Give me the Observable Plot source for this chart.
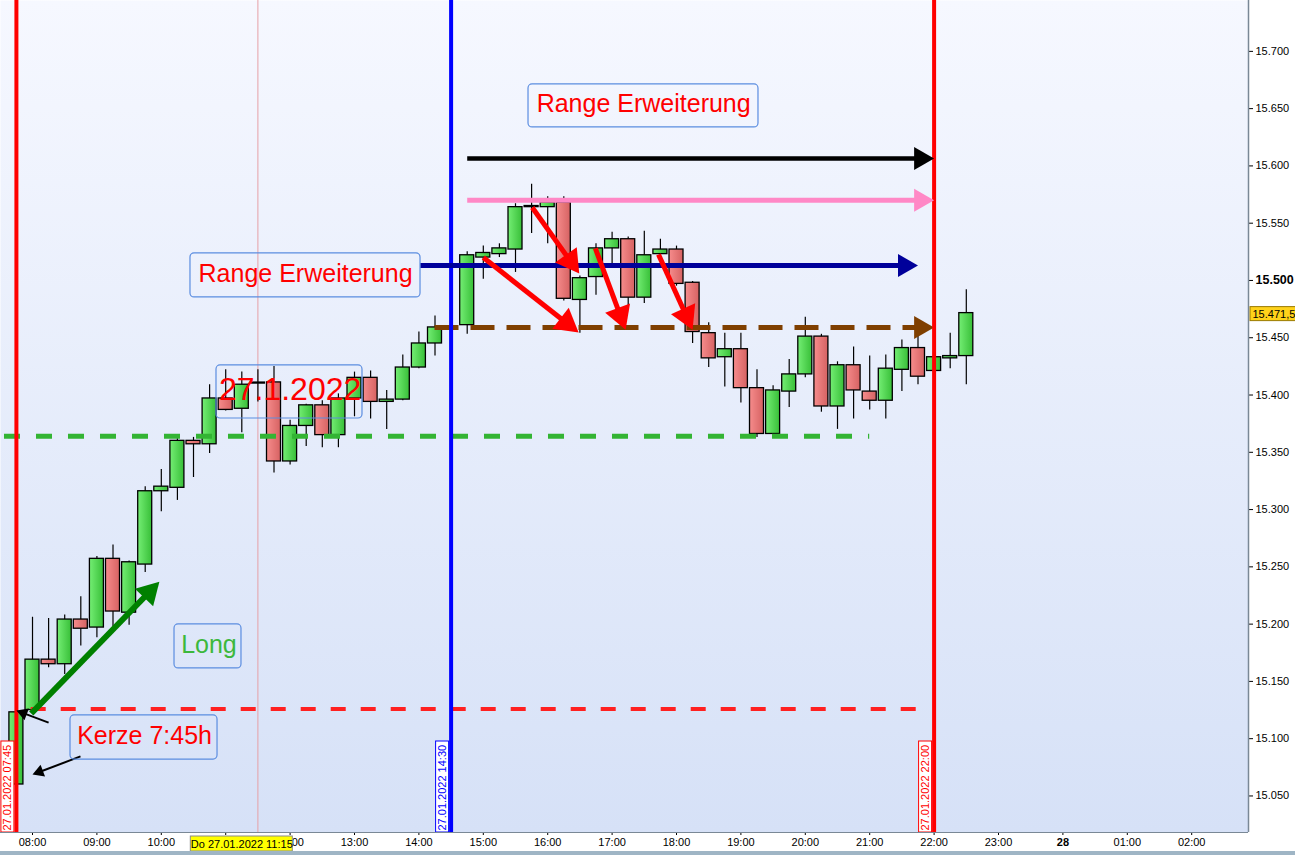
<!DOCTYPE html>
<html>
<head>
<meta charset="utf-8">
<script src="https://cdn.jsdelivr.net/npm/d3@7"></script>
<script src="https://cdn.jsdelivr.net/npm/@observablehq/plot@0.6"></script>
<style>
html, body { margin: 0; padding: 0; background: #9fb5c5; }
#chart { width: 1295px; height: 851px; background: #ffffff; }
#chart svg { display: block; }
</style>
</head>
<body>
<div id="chart"></div>
<script>
// ---------- data (15-min candles, 27.01.2022) ----------
const times = ["07:45","08:00","08:15","08:30","08:45","09:00","09:15","09:30","09:45","10:00",
  "10:15","10:30","10:45","11:00","11:15","11:30","11:45","12:00","12:15","12:30",
  "12:45","13:00","13:15","13:30","13:45","14:00","14:15","14:45","15:00","15:15",
  "15:30","15:45","16:00","16:15","16:30","16:45","17:00","17:15","17:30","17:45",
  "18:00","18:15","18:30","18:45","19:00","19:15","19:30","19:45","20:00","20:15",
  "20:30","20:45","21:00","21:15","21:30","21:45","22:00","22:15","22:30"];
const open = [15060,15125,15169,15165,15204,15197,15257,15210,15252,15316,
  15319,15360,15357,15397,15388,15410,15411,15342,15373,15391,
  15365,15397,15415,15394,15396,15424,15445,15461,15520,15523,
  15527,15564,15564,15568,15483,15503,15528,15536,15485,15523,
  15527,15498,15454,15433,15440,15406,15366,15403,15418,15451,
  15390,15426,15403,15395,15422,15441,15421,15432,15434];
const high = [15126,15206,15205,15208,15224,15259,15269,15255,15320,15335,
  15362,15363,15409,15422,15420,15422,15425,15378,15392,15395,
  15401,15420,15421,15404,15435,15455,15469,15525,15530,15532,
  15567,15584,15573,15573,15504,15532,15542,15538,15543,15536,
  15530,15499,15463,15454,15454,15422,15408,15431,15468,15453,
  15429,15442,15434,15435,15448,15452,15435,15454,15492];
const low = [15058,15124,15162,15156,15181,15188,15198,15199,15245,15298,
  15308,15328,15349,15386,15367,15394,15332,15339,15355,15354,
  15354,15381,15379,15370,15395,15423,15434,15453,15501,15520,
  15507,15541,15532,15482,15454,15487,15513,15474,15480,15520,
  15495,15445,15424,15407,15393,15363,15366,15389,15415,15385,
  15370,15379,15387,15379,15403,15409,15420,15423,15409];
const close = [15123,15169,15165,15204,15196,15257,15211,15254,15316,15320,
  15360,15357,15397,15387,15409,15410,15342,15373,15391,15365,
  15397,15415,15394,15396,15424,15445,15459,15522,15524,15528,
  15564,15565,15568,15484,15502,15528,15536,15485,15522,15527,
  15497,15455,15432,15440,15406,15366,15404,15418,15451,15390,
  15426,15404,15395,15423,15441,15416,15433,15434,15471.5];
const lastPrice = 15471.5;
const lastPriceLabel = "15.471,5";

// ---------- axis ticks ----------
const yTicks = [15050,15100,15150,15200,15250,15300,15350,15400,15450,15500,15550,15600,15650,15700];
const yTickLabels = ["15.050","15.100","15.150","15.200","15.250","15.300","15.350","15.400","15.450","15.500","15.550","15.600","15.650","15.700"];
const xTickHours = [8,9,10,11,12,13,14,15,16,17,18,19,20,21,22,23,24,25,26];
const xTickLabels = ["08:00","09:00","10:00","11:00","12:00","13:00","14:00","15:00","16:00","17:00","18:00","19:00","20:00","21:00","22:00","23:00","28","01:00","02:00"];

// ---------- annotations (time in hours, price in points) ----------
const vLines = [
  {t: 7.75, color: "#ff0000", label: "27.01.2022 07:45"},
  {t: 14.5, color: "#0000ff", label: "27.01.2022 14:30"},
  {t: 22.0, color: "#ff0000", label: "27.01.2022 22:00"}
];
const crosshairT = 11.5;
const crosshairLabel = {t: 11.25, text: "Do 27.01.2022 11:15"};
const levels = [
  {y: 15364, from: 7.565, to: 21.0, color: "#33b433", w: 5, dash: "16,16", head: 0},
  {y: 15126, from: 7.98, to: 21.75, color: "#ff2020", w: 4, dash: "15,15", head: 0},
  {y: 15459, from: 14.25, to: 22.0, color: "#7f3f00", w: 5, dash: "24,12", head: 20}
];
const arrows = [
  {x1: 14.75, y1: 15606.5, x2: 22.0, y2: 15606.5, color: "#000000", w: 4.5, head: 20},
  {x1: 14.75, y1: 15570, x2: 22.0, y2: 15570, color: "#ff88c6", w: 5, head: 20},
  {x1: 14.02, y1: 15513, x2: 21.75, y2: 15513, color: "#00009a", w: 5, head: 20},
  {x1: 15.0, y1: 15520, x2: 16.48, y2: 15454.6, color: "#ff0000", w: 5, head: 23},
  {x1: 15.76, y1: 15563.7, x2: 16.49, y2: 15506, color: "#ff0000", w: 5, head: 23},
  {x1: 16.74, y1: 15528, x2: 17.21, y2: 15457, color: "#ff0000", w: 5, head: 23},
  {x1: 17.72, y1: 15522.7, x2: 18.25, y2: 15457, color: "#ff0000", w: 5, head: 23},
  {x1: 7.98, y1: 15122, x2: 9.97, y2: 15237, color: "#008000", w: 6, head: 22},
  {x1: 8.25, y1: 15114, x2: 7.75, y2: 15124.6, color: "#000000", w: 2, head: 11},
  {x1: 8.745, y1: 15084.5, x2: 8.0, y2: 15068.7, color: "#000000", w: 2, head: 11}
];
const notes = [
  {text: "Range Erweiterung", t: 17.49, v: 15654, color: "#ff0000", size: 25, box: [15.702, 19.273, 15633.6, 15671.1]},
  {text: "Range Erweiterung", t: 12.24, v: 15505.7, color: "#ff0000", size: 25, box: [10.453, 14.025, 15485.2, 15523.6]},
  {text: "27.1.2022", t: 12.0, v: 15404.8, color: "#ff0000", size: 32, box: [10.857, 13.124, 15379.5, 15425.8]},
  {text: "Long", t: 10.74, v: 15182.2, color: "#3cb83c", size: 25, box: [10.205, 11.245, 15161.3, 15199.7]},
  {text: "Kerze 7:45h", t: 9.74, v: 15102.4, color: "#ff0000", size: 25, box: [8.59, 10.873, 15081.8, 15120.3]}
];

// ---------- layout ----------
const W = 1295, H = 851, MR = 47, MB = 19;
const xDomain = [7.503, 26.882];
const yDomain = [15018.1, 15744.4];
const pxX = (W - MR) / (xDomain[1] - xDomain[0]);
const pxY = (H - MB) / (yDomain[1] - yDomain[0]);
const dx = (p) => p / pxX;
const dy = (p) => p / pxY;
const FONT = "'Liberation Sans', Arial, sans-serif";

const hour = (s) => +s.slice(0, 2) + (+s.slice(3)) / 60;
const candles = times.map((s, i) => ({t: hour(s), o: open[i], h: high[i], l: low[i], c: close[i]}));
const up = candles.filter((d) => d.c >= d.o);
const down = candles.filter((d) => d.c < d.o);
const bodyOpts = (fill) => ({
  x1: (d) => d.t - dx(7), x2: (d) => d.t + dx(7),
  y1: (d) => Math.min(d.o, d.c),
  y2: (d) => Math.max(Math.max(d.o, d.c), Math.min(d.o, d.c) + dy(1)),
  fill, stroke: "#000", strokeWidth: 1.3
});

// arrow helper: shaft (link) + filled triangular head (rotated dot)
function arrowMarks(a) {
  const vx = (a.x2 - a.x1) * pxX, vy = -(a.y2 - a.y1) * pxY;
  const L = Math.hypot(vx, vy), ux = vx / L, uy = vy / L;
  const back = a.head * 2 / 3;
  const cx = a.x2 - ux * back / pxX, cy = a.y2 + uy * back / pxY;
  const rot = Math.atan2(ux, -uy) * 180 / Math.PI;
  const r = a.head / 2.333;
  const marks = [];
  if (a.dash) {
    marks.push(Plot.ruleY([a], {y: "y1", x1: "x1", x2: () => cx, stroke: a.color, strokeWidth: a.w, strokeDasharray: a.dash}));
  } else {
    marks.push(Plot.link([a], {x1: "x1", y1: "y1", x2: () => cx, y2: () => cy, stroke: a.color, strokeWidth: a.w, strokeLinecap: "butt"}));
  }
  marks.push(Plot.dot([a], {x: () => cx, y: () => cy, symbol: "triangle", r, rotate: rot, fill: a.color, stroke: "none"}));
  return marks;
}

const marks = [
  Plot.frame({fill: "url(#bgGrad)", stroke: "none"}),
  Plot.ruleX([crosshairT], {stroke: "#e6a0a6", strokeWidth: 1}),
  // wicks
  Plot.ruleX(candles, {x: "t", y1: "l", y2: "h", stroke: "#000", strokeWidth: 1.2}),
  // bodies
  Plot.rect(up, bodyOpts("url(#gUp)")),
  Plot.rect(down, bodyOpts("url(#gDown)")),
  // dashed levels
  ...levels.filter((l) => !l.head).map((l) => Plot.ruleY([l], {y: "y", x1: "from", x2: "to", stroke: l.color, strokeWidth: l.w, strokeDasharray: l.dash})),
  ...levels.filter((l) => l.head).flatMap((l) => arrowMarks({x1: l.from, y1: l.y, x2: l.to, y2: l.y, color: l.color, w: l.w, head: l.head, dash: l.dash})),
  // vertical session lines
  ...vLines.map((v) => Plot.ruleX([v.t], {stroke: v.color, strokeWidth: 4})),
  // arrows
  ...arrows.flatMap(arrowMarks),
  // note boxes and texts
  Plot.rect(notes, {x1: (d) => d.box[0], x2: (d) => d.box[1], y1: (d) => d.box[2], y2: (d) => d.box[3], fill: "none", stroke: "#5b8de0", strokeWidth: 1.2, rx: 4}),
  ...notes.map((n) => Plot.text([n], {x: "t", y: "v", text: "text", fill: n.color, fontSize: n.size, fontFamily: FONT})),
  // vertical line labels
  Plot.rect(vLines, {x1: (d) => d.t - dx(15), x2: (d) => d.t - dx(2), y1: () => yDomain[0], y2: () => yDomain[0] + dy(91), fill: "#ffffff", stroke: (d) => d.color, strokeWidth: 1}),
  ...vLines.map((v) => Plot.text([v], {x: (d) => d.t - dx(8.5), y: () => yDomain[0] + dy(2), text: "label", rotate: -90, textAnchor: "start", fill: v.color, fontSize: 11, fontFamily: FONT})),
  // frame borders
  Plot.ruleX([xDomain[1]], {stroke: "#7a8896", strokeWidth: 1.5}),
  Plot.ruleY([yDomain[0]], {stroke: "#7a8896", strokeWidth: 1}),
  // last price label
  Plot.rect([lastPrice], {x1: () => xDomain[1] + dx(2), x2: () => xDomain[1] + dx(52), y1: (d) => d - dy(8), y2: (d) => d + dy(6), fill: "#ffd21a", stroke: "#9a7a00", strokeWidth: 1}),
  Plot.text([lastPrice], {x: () => xDomain[1] + dx(4), y: (d) => d - dy(1), text: () => lastPriceLabel, textAnchor: "start", fill: "#000", fontSize: 11, fontFamily: FONT}),
  // crosshair time label
  Plot.rect([crosshairLabel], {x1: (d) => d.t - dx(51), x2: (d) => d.t + dx(51), y1: () => yDomain[0] - dy(4), y2: () => yDomain[0] - dy(19), fill: "#ffff00", stroke: "#8c8c8c", strokeWidth: 1}),
  Plot.text([crosshairLabel], {x: "t", y: () => yDomain[0] - dy(11.5), text: "text", fill: "#000", fontSize: 11, fontFamily: FONT})
];

const plot = Plot.plot({
  width: W, height: H,
  marginLeft: 0, marginRight: MR, marginTop: 0, marginBottom: MB,
  style: {fontFamily: FONT, fontSize: "11px", background: "#ffffff", overflow: "visible", color: "#000"},
  x: {type: "linear", domain: xDomain, ticks: xTickHours, tickFormat: (h) => xTickLabels[xTickHours.indexOf(h)], tickSize: 3, tickPadding: 3, label: null},
  y: {type: "linear", domain: yDomain, axis: "right", ticks: yTicks, tickFormat: (v) => yTickLabels[yTicks.indexOf(v)], tickSize: 4, tickPadding: 3, label: null},
  marks
});

const ns = "http://www.w3.org/2000/svg";
const defs = document.createElementNS(ns, "defs");
defs.innerHTML =
  '<linearGradient id="bgGrad" x1="0" y1="0" x2="0" y2="1"><stop offset="0" stop-color="#f6f8ff"/><stop offset="1" stop-color="#d6e1f7"/></linearGradient>' +
  '<linearGradient id="gUp" x1="0" y1="0" x2="1" y2="0"><stop offset="0" stop-color="#74ee74"/><stop offset="1" stop-color="#38bf38"/></linearGradient>' +
  '<linearGradient id="gDown" x1="0" y1="0" x2="1" y2="0"><stop offset="0" stop-color="#f68c8c"/><stop offset="1" stop-color="#d66262"/></linearGradient>';
plot.insertBefore(defs, plot.firstChild);
plot.querySelectorAll("text").forEach((t) => {
  if (t.textContent === "15.500" || t.textContent === "28") { t.setAttribute("font-weight", "bold"); t.style.fontWeight = "bold"; }
  if (t.textContent === "15.500") t.setAttribute("font-size", "12.5");
});
document.getElementById("chart").appendChild(plot);
</script>
</body>
</html>
